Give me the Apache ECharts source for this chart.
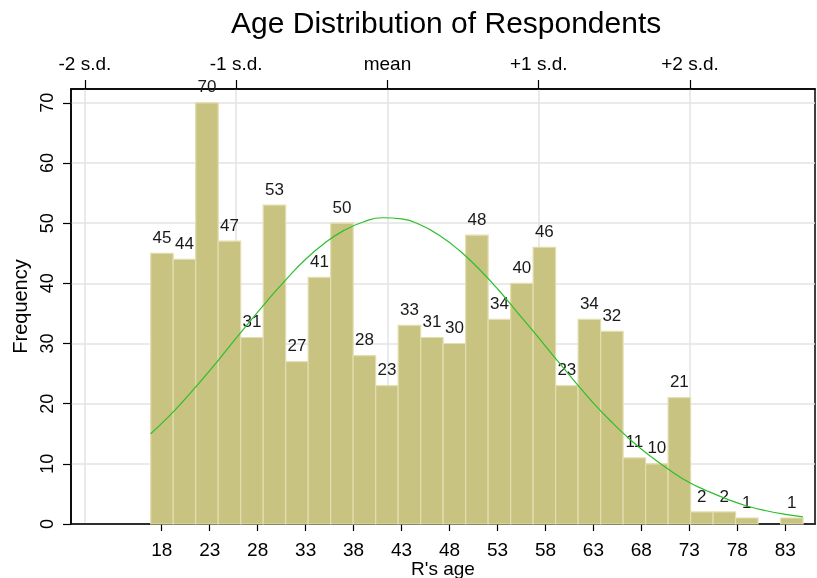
<!DOCTYPE html>
<html>
<head>
<meta charset="utf-8">
<script src="https://cdn.jsdelivr.net/npm/echarts@6/dist/echarts.min.js"></script>
<style>
html,body{margin:0;padding:0;background:#fff;}
#chart{width:817px;height:578px;}
</style>
</head>
<body>
<div id="chart"></div>
<script>
// ---- data ----
const binStart = 16.85;      // left edge of first bin (years)
const binWidth = 2.345;      // bin width (years)
const counts = [45,44,70,47,31,53,27,41,50,28,23,33,31,30,48,34,40,46,23,34,32,11,10,21,2,2,1,0,1];
const ageTicks = [18,23,28,33,38,43,48,53,58,63,68,73,78,83];
const sdLabels = ['-2 s.d.','-1 s.d.','mean','+1 s.d.','+2 s.d.'];
const sdPositions = [9.99,25.76,41.53,57.30,73.07];
const freqTicks = [0,10,20,30,40,50,60,70];
// normal curve
const curveAges = [16.85,19,21,23,25,27,29,31,33,35,37,39,41,43,45,47,49,51,53,55,57,59,61,63,65,67,69,71,73,75,77,79,81,83,84.84];
const curveFreq = [15.0,18.3,21.8,25.5,29.4,33.3,37.1,40.7,44.0,46.7,48.8,50.2,50.9,50.7,49.7,47.9,45.5,42.5,39.1,35.3,31.5,27.6,23.8,20.1,16.8,13.8,11.2,8.9,6.9,5.4,4.1,3.0,2.2,1.6,1.2];

const FONT = "'Liberation Sans', Arial, sans-serif";
const barData = counts.map((c,i)=>[binStart+i*binWidth, binStart+(i+1)*binWidth, c]);
const curveData = curveAges.map((a,i)=>[a, curveFreq[i]]);

const chart = echarts.init(document.getElementById('chart'), null, {renderer:'canvas'});
chart.setOption({
  animation:false,
  backgroundColor:'#fff',
  title:{
    text:'Age Distribution of Respondents',
    left:226, top:5,
    textStyle:{fontFamily:FONT, fontSize:30, fontWeight:'normal', color:'#000'}
  },
  grid:{left:71, right:2, top:89, bottom:54, show:true, borderColor:'#000', borderWidth:1.5,
        containLabel:false, outerBoundsMode:'none'},
  xAxis:[{
    type:'value', min:8.54, max:86.1, position:'bottom',
    name:"R's age", nameLocation:'middle', nameGap:36, nameMoveOverlap:false,
    nameTextStyle:{fontFamily:FONT, fontSize:19, color:'#000'},
    axisLine:{show:true, lineStyle:{color:'#000', width:1.5}},
    axisTick:{show:true, length:7, customValues:ageTicks, lineStyle:{color:'#000', width:1.2}},
    axisLabel:{customValues:ageTicks, fontFamily:FONT, fontSize:19, color:'#000', margin:17},
    splitLine:{show:false}
  },{
    type:'value', min:8.54, max:86.1, position:'top',
    axisLine:{show:true, lineStyle:{color:'#000', width:1.5}},
    axisTick:{show:true, length:9, customValues:sdPositions, lineStyle:{color:'#000', width:1.2}},
    axisLabel:{customValues:sdPositions, fontFamily:FONT, fontSize:19, color:'#000', margin:15,
      formatter:function(v){ let best=0; sdPositions.forEach((p,i)=>{ if(Math.abs(p-v)<Math.abs(sdPositions[best]-v)) best=i; }); return sdLabels[best]; }},
    splitLine:{show:true, lineStyle:{color:'#e3e3e3', width:1.5}}
  }],
  yAxis:{
    type:'value', min:0, max:72.3,
    name:'Frequency', nameLocation:'middle', nameGap:40, nameRotate:90, nameMoveOverlap:false,
    nameTextStyle:{fontFamily:FONT, fontSize:20, color:'#000'},
    axisLine:{show:true, lineStyle:{color:'#000', width:1.5}},
    axisTick:{show:true, length:8, customValues:freqTicks, lineStyle:{color:'#000', width:1.2}},
    axisLabel:{customValues:freqTicks, rotate:90, fontFamily:FONT, fontSize:18, color:'#000', margin:14},
    splitLine:{show:true, lineStyle:{color:'#e3e3e3', width:1.5}}
  },
  series:[{
    type:'custom',
    xAxisIndex:0, yAxisIndex:0,
    encode:{x:[0,1], y:2},
    data:barData,
    z:2,
    renderItem:function(params, api){
      const x0=api.value(0), x1=api.value(1), v=api.value(2);
      if(!(v>0)) return null;
      const p0=api.coord([x0,v]), p1=api.coord([x1,0]);
      return {
        type:'rect',
        shape:{x:p0[0], y:p0[1], width:p1[0]-p0[0], height:p1[1]-p0[1]},
        style:{fill:'#c9c381', stroke:'#e2deb0', lineWidth:1.2},
        textContent:{style:{text:String(v), fontFamily:FONT, fontSize:17, fill:'#1a1a1a'}},
        textConfig:{position:'top', distance:6}
      };
    }
  },{
    type:'line',
    xAxisIndex:0, yAxisIndex:0,
    data:curveData, smooth:true, showSymbol:false, symbol:'none',
    lineStyle:{color:'#2cbf2c', width:1.2},
    z:3
  }]
});
</script>
</body>
</html>
